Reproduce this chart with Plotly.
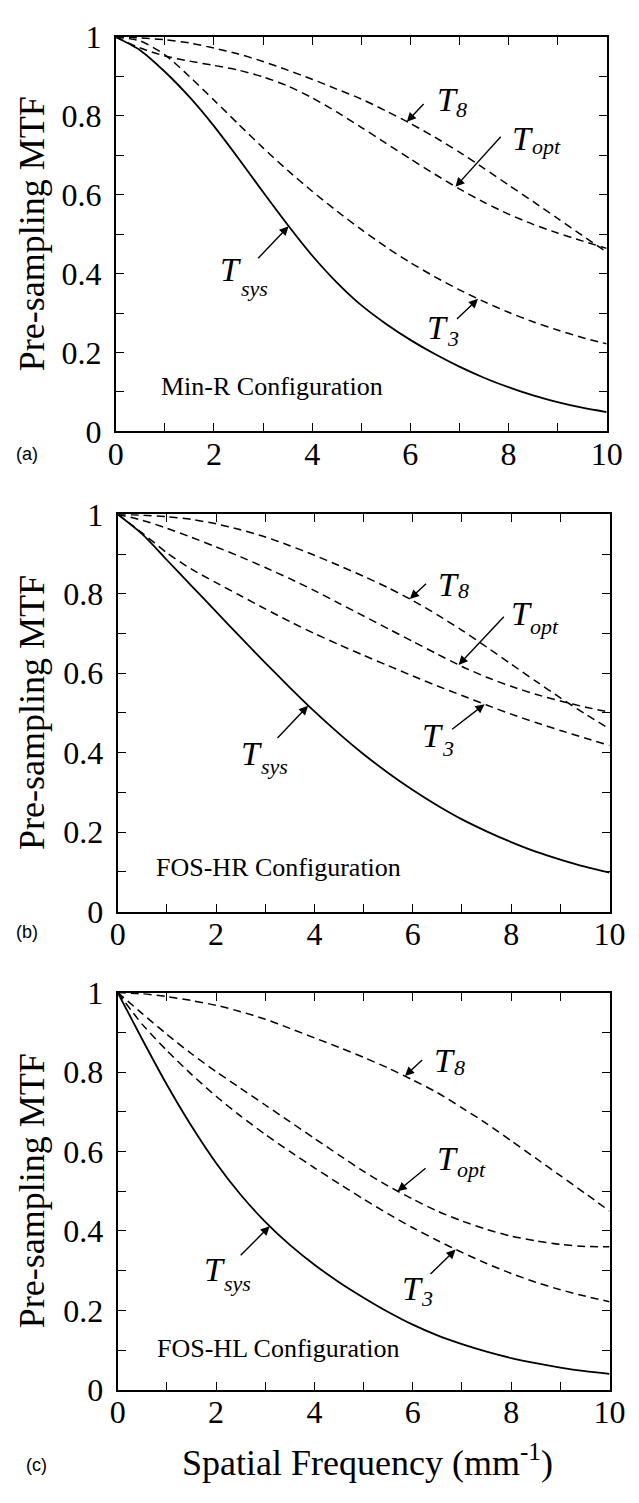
import plotly.graph_objects as go

# ---------------- data ----------------
freq = [0, 0.5, 1, 1.5, 2, 2.5, 3, 3.5, 4, 4.5, 5, 5.5, 6, 6.5, 7, 7.5, 8, 8.5, 9, 9.5, 10]

# (a) Min-R
tsys_a = [1.0, 0.966, 0.912, 0.848, 0.774, 0.692, 0.607, 0.524, 0.446, 0.378, 0.32, 0.273, 0.232,
          0.196, 0.164, 0.136, 0.112, 0.091, 0.074, 0.06, 0.049]
t3_a = [1.0, 0.99, 0.955, 0.9, 0.84, 0.779, 0.719, 0.662, 0.609, 0.559, 0.512, 0.468, 0.428,
        0.392, 0.359, 0.329, 0.302, 0.278, 0.257, 0.238, 0.222]
topt_a = [1.0, 0.972, 0.952, 0.939, 0.928, 0.916, 0.899, 0.876, 0.846, 0.81, 0.771, 0.731, 0.691,
          0.652, 0.615, 0.581, 0.551, 0.525, 0.503, 0.483, 0.464]
t8_a = [1.0, 0.998, 0.993, 0.985, 0.972, 0.957, 0.938, 0.916, 0.893, 0.868, 0.843, 0.813, 0.781,
        0.746, 0.708, 0.667, 0.625, 0.583, 0.54, 0.497, 0.455]

# (b) FOS-HR
tsys_b = [1.0, 0.95, 0.885, 0.82, 0.755, 0.69, 0.626, 0.564, 0.504, 0.448, 0.396, 0.349, 0.306,
          0.267, 0.232, 0.202, 0.175, 0.151, 0.131, 0.113, 0.098]
t3_b = [1.0, 0.953, 0.903, 0.862, 0.828, 0.795, 0.762, 0.73, 0.7, 0.672, 0.645, 0.619, 0.593,
        0.568, 0.544, 0.52, 0.497, 0.476, 0.456, 0.437, 0.418]
topt_b = [1.0, 0.985, 0.965, 0.942, 0.918, 0.893, 0.866, 0.838, 0.808, 0.776, 0.744, 0.712, 0.68,
          0.648, 0.617, 0.59, 0.567, 0.547, 0.53, 0.515, 0.502]
t8_b = [1.0, 0.998, 0.994, 0.987, 0.976, 0.961, 0.943, 0.921, 0.897, 0.871, 0.844, 0.815, 0.783,
        0.747, 0.708, 0.666, 0.623, 0.58, 0.538, 0.498, 0.46]

# (c) FOS-HL
tsys_c = [1.0, 0.882, 0.768, 0.664, 0.571, 0.491, 0.423, 0.365, 0.315, 0.271, 0.232, 0.196, 0.164,
          0.137, 0.115, 0.096, 0.08, 0.067, 0.056, 0.047, 0.04]
t3_c = [1.0, 0.92, 0.854, 0.794, 0.739, 0.689, 0.643, 0.6, 0.559, 0.519, 0.48, 0.443, 0.408,
        0.376, 0.346, 0.318, 0.293, 0.271, 0.252, 0.236, 0.222]
topt_c = [1.0, 0.947, 0.895, 0.846, 0.801, 0.759, 0.717, 0.675, 0.633, 0.591, 0.55, 0.513, 0.48,
          0.45, 0.425, 0.404, 0.387, 0.375, 0.366, 0.361, 0.36]
t8_c = [1.0, 0.997, 0.99, 0.98, 0.968, 0.952, 0.933, 0.91, 0.886, 0.862, 0.837, 0.81, 0.78,
        0.748, 0.71, 0.67, 0.627, 0.583, 0.539, 0.495, 0.45]

x_tick_vals = list(range(11))
x_tick_text = ["0", "", "2", "", "4", "", "6", "", "8", "", "10"]
y_tick_vals = [i / 10 for i in range(11)]
y_tick_text = ["0", "", "0.2", "", "0.4", "", "0.6", "", "0.8", "", "1"]

config_names = ["Min-R Configuration", "FOS-HR Configuration", "FOS-HL Configuration"]
panel_tags = ["(a)", "(b)", "(c)"]

# ---------------- layout helpers ----------------
W, H = 639, 1503
SERIF = "Liberation Serif, Times New Roman, serif"
SANS = "Liberation Sans, Arial, sans-serif"


def px_x(p):
    return p / W


def px_y(p):
    return 1 - p / H


panels = [
    dict(series=(tsys_a, t3_a, topt_a, t8_a), xd=(112, 622), yd=(19.5, 423.5),
         cfg=(0.88, 0.115), tag=(20, 447),
         labels=dict(
             sys=dict(T=(2.08, 0.41), s=(2.5, 0.363), tail=(2.87, 0.435), tip=(3.52, 0.52)),
             t8=dict(T=(6.5, 0.842), s=(6.9, 0.817), tail=(6.3, 0.834), tip=(5.93, 0.785)),
             opt=dict(T=(8.03, 0.743), s=(8.43, 0.722), tail=(7.87, 0.751), tip=(6.92, 0.62)),
             t3=dict(T=(6.3, 0.264), s=(6.7, 0.236), tail=(6.92, 0.281), tip=(7.38, 0.336)))),
    dict(series=(tsys_b, t3_b, topt_b, t8_b), xd=(114, 625), yd=(508.5, 915.5),
         cfg=(0.74, 0.11), tag=(20, 936),
         labels=dict(
             sys=dict(T=(2.47, 0.399), s=(2.88, 0.366), tail=(3.22, 0.433), tip=(3.87, 0.518)),
             t8=dict(T=(6.48, 0.824), s=(6.88, 0.808), tail=(6.3, 0.829), tip=(5.94, 0.787)),
             opt=dict(T=(7.95, 0.751), s=(8.35, 0.718), tail=(7.88, 0.746), tip=(6.93, 0.621)),
             t3=dict(T=(6.15, 0.443), s=(6.55, 0.411), tail=(6.77, 0.456), tip=(7.46, 0.522)))),
    dict(series=(tsys_c, t3_c, topt_c, t8_c), xd=(114, 625), yd=(998.5, 1405.5),
         cfg=(0.76, 0.105), tag=(30, 1482),
         labels=dict(
             sys=dict(T=(1.72, 0.304), s=(2.12, 0.267), tail=(2.47, 0.335), tip=(3.09, 0.412)),
             t8=dict(T=(6.4, 0.829), s=(6.8, 0.812), tail=(6.22, 0.834), tip=(5.84, 0.79)),
             opt=dict(T=(6.46, 0.583), s=(6.86, 0.554), tail=(6.29, 0.561), tip=(5.69, 0.5)),
             t3=dict(T=(5.73, 0.255), s=(6.13, 0.23), tail=(6.33, 0.288), tip=(6.87, 0.353)))),
]

sub_text = dict(sys="sys", t8="8", opt="opt", t3="3")

fig = go.Figure()
annotations = []
layout_axes = {}

for i, p in enumerate(panels):
    n = "" if i == 0 else str(i + 1)
    xa, ya = "x" + n, "y" + n
    tsys, t3, topt, t8 = p["series"]
    fig.add_trace(go.Scatter(x=freq, y=tsys, mode="lines", xaxis=xa, yaxis=ya,
                             line=dict(color="black", width=1.8, shape="spline", smoothing=0.7),
                             showlegend=False, hoverinfo="skip"))
    for s in (t3, topt, t8):
        fig.add_trace(go.Scatter(x=freq, y=s, mode="lines", xaxis=xa, yaxis=ya,
                                 line=dict(color="black", width=1.5, dash="8px,5px",
                                           shape="spline", smoothing=0.7),
                                 showlegend=False, hoverinfo="skip"))

    layout_axes["xaxis" + n] = dict(
        domain=[px_x(p["xd"][0]), px_x(p["xd"][1])], range=[0, 10], anchor=ya,
        tickmode="array", tickvals=x_tick_vals, ticktext=x_tick_text,
        ticks="inside", ticklen=8, tickwidth=1.3, tickcolor="black",
        showline=True, linecolor="black", linewidth=2, mirror="allticks",
        showgrid=False, zeroline=False, ticklabelstandoff=-7,
        tickfont=dict(family=SERIF, size=32, color="black"))
    layout_axes["yaxis" + n] = dict(
        domain=[px_y(p["yd"][1]), px_y(p["yd"][0])], range=[0, 1], anchor=xa,
        tickmode="array", tickvals=y_tick_vals, ticktext=y_tick_text,
        ticks="inside", ticklen=8, tickwidth=1.3, tickcolor="black",
        showline=True, linecolor="black", linewidth=2, mirror="allticks",
        showgrid=False, zeroline=False, ticklabelstandoff=6,
        tickfont=dict(family=SERIF, size=32, color="black"))

    # y-axis title
    annotations.append(dict(text="Pre-sampling MTF", xref="paper", yref="paper",
                            x=px_x(25), y=px_y((p["yd"][0] + p["yd"][1]) / 2),
                            textangle=-90, showarrow=False, xanchor="center", yanchor="middle",
                            font=dict(family=SERIF, size=36, color="black")))
    # panel tag
    annotations.append(dict(text=panel_tags[i], xref="paper", yref="paper",
                            x=px_x(p["tag"][0]), y=px_y(p["tag"][1]), showarrow=False,
                            xanchor="center", yanchor="middle",
                            font=dict(family=SANS, size=18, color="black")))
    # configuration label
    annotations.append(dict(text=config_names[i], xref=xa, yref=ya,
                            x=p["cfg"][0], y=p["cfg"][1], showarrow=False,
                            xanchor="left", yanchor="middle",
                            font=dict(family=SERIF, size=26, color="black")))
    # curve labels with arrows
    for key, lab in p["labels"].items():
        annotations.append(dict(text="<i>T</i>", xref=xa, yref=ya, x=lab["T"][0], y=lab["T"][1],
                                showarrow=False, xanchor="left", yanchor="middle",
                                font=dict(family=SERIF, size=34, color="black")))
        annotations.append(dict(text="<i>" + sub_text[key] + "</i>", xref=xa, yref=ya,
                                x=lab["s"][0], y=lab["s"][1],
                                showarrow=False, xanchor="left", yanchor="middle",
                                font=dict(family=SERIF, size=22, color="black")))
        annotations.append(dict(text="", xref=xa, yref=ya, x=lab["tip"][0], y=lab["tip"][1],
                                axref=xa, ayref=ya, ax=lab["tail"][0], ay=lab["tail"][1],
                                showarrow=True, arrowhead=2, arrowsize=1.3, arrowwidth=1.4,
                                arrowcolor="black"))

# x-axis title
annotations.append(dict(text="Spatial Frequency (mm<sup>-1</sup>)", xref="paper", yref="paper",
                        x=px_x(374), y=px_y(1478), showarrow=False,
                        xanchor="center", yanchor="middle",
                        font=dict(family=SERIF, size=36, color="black")))

fig.update_layout(width=W, height=H, autosize=False,
                  margin=dict(l=0, r=0, t=0, b=0, pad=0),
                  paper_bgcolor="white", plot_bgcolor="white",
                  annotations=annotations, **layout_axes)

fig.write_html("out.html")
